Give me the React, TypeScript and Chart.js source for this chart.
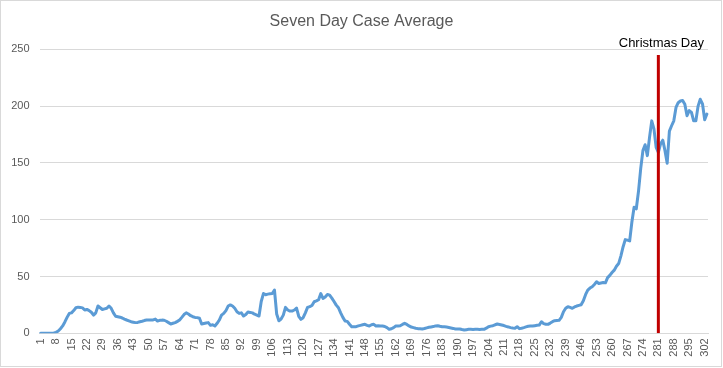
import React, { useEffect, useRef } from "react";
import { Chart, registerables } from "chart.js";

Chart.register(...registerables);

const TITLE = "Seven Day Case Average";
const MARKER_DAY = "281";
const MARKER_LABEL = "Christmas Day";
const MARKER_TOP = 245;
const Y_TICKS = [0, 50, 100, 150, 200, 250];
const LABEL_EVERY = 7;

const CASES = [
  0, 0, 0, 0, 0, 0, 0.3, 0.8, 2, 4,
  6.5, 10, 14, 17.5, 18, 20, 22.5, 23, 22.8, 22.4,
  20.5, 21, 20, 18.5, 16, 18, 24, 22.5, 21, 21.5,
  22, 24, 22, 18, 15, 14.6, 14.2, 13.5, 12.5, 11.7,
  11, 10.2, 9.8, 9.4, 9.6, 10.2, 10.6, 11.2, 11.7, 11.8,
  11.7, 11.8, 12.5, 10.8, 11.4, 11.6, 11.5, 10.6, 9.4, 8.2,
  8.8, 9.4, 10.5, 11.7, 14, 16.5, 18, 17, 15.5, 14.6,
  14, 13.8, 13.2, 8.2, 8.6, 9, 9.4, 7, 7.5, 6.4,
  8.8, 11.7, 16, 17.5, 20, 24, 25, 24, 22, 19,
  17.5, 18, 15.2, 16.5, 18.7, 18.4, 18, 16.8, 16, 15.2,
  28, 35, 34, 34.5, 34.8, 35, 38, 17, 11, 12.5,
  16, 22.8, 20.5, 19.6, 19.6, 20.5, 22.2, 15, 12.3, 13.7,
  18, 22.8, 23.5, 24.5, 27.8, 28.5, 29.5, 35, 30.7, 32,
  34.2, 33.6, 31, 28, 24.8, 22.5, 18, 14, 10.8, 10.5,
  8, 5.8, 5.8, 5.8, 6.5, 7, 7.5, 7.9, 7, 6.4,
  7.5, 7.9, 6.4, 6.6, 6.5, 6.4, 6, 5, 3.5, 4,
  5, 6.4, 6.5, 6.7, 7.8, 8.8, 7.8, 6.5, 5.5, 5,
  4.5, 4.1, 4, 3.8, 4.2, 4.8, 5.3, 5.6, 5.9, 6.5,
  6.7, 6.2, 5.8, 5.7, 5.5, 5.1, 4.7, 4.3, 3.8, 3.8,
  3.8, 3.3, 2.9, 3.2, 3.5, 3.5, 3.4, 3.5, 3.5, 3.4,
  3.5, 3.5, 4.5, 5.8, 6.3, 6.7, 7.5, 8.2, 7.8, 7.3,
  6.8, 6.1, 5.6, 5, 4.6, 4.4, 5.8, 4.1, 4.5, 5,
  5.6, 6.2, 6.4, 6.4, 6.7, 7, 7.2, 10.2, 8.5, 8,
  7.9, 9, 10.2, 11.1, 11.3, 11.4, 14, 19, 22, 23.4,
  22.8, 22, 23.2, 24, 24.6, 25.1, 28.7, 34, 38, 39.8,
  41, 43, 45.3, 43.9, 44.3, 44.7, 44.4, 49, 51, 53.5,
  55.6, 59, 61.4, 68, 76, 82.5, 82, 81.3, 98, 111,
  109.6, 125, 145, 160.8, 166, 156.4, 172.5, 187, 180, 163.7,
  159.3, 166.7, 170, 160.8, 149.7, 178, 182.7, 187, 198.8, 203,
  204.5, 205, 201.7, 191.5, 196, 194.4, 187, 187, 200, 206,
  202, 188, 193,
];

const DAYS = CASES.map((_, i) => String(i + 1));

export default function App() {
  const ref = useRef<HTMLCanvasElement | null>(null);

  useEffect(() => {
    if (!ref.current) return;
    const decor = {
      id: "decor",
      beforeDraw(chart: any) {
        const ctx = chart.ctx;
        ctx.save();
        ctx.fillStyle = "#ffffff";
        ctx.fillRect(0, 0, chart.width, chart.height);
        ctx.strokeStyle = "#d9d9d9";
        ctx.lineWidth = 1;
        ctx.strokeRect(0.5, 0.5, 721, 366);
        ctx.restore();
      },
      afterDraw(chart: any) {
        const ctx = chart.ctx;
        ctx.save();
        ctx.textAlign = "center";
        ctx.textBaseline = "middle";
        ctx.fillStyle = "#595959";
        ctx.font = "16px 'Liberation Sans'";
        ctx.fillText(TITLE, 361.5, 22);
        const x = chart.scales.x.getPixelForValue(DAYS.indexOf(MARKER_DAY));
        ctx.fillStyle = "#000000";
        ctx.font = "13px 'Liberation Sans'";
        ctx.fillText(MARKER_LABEL, x + 3, 43);
        ctx.restore();
      },
    };

    const chart = new Chart(ref.current, {
      type: "line",
      data: {
        labels: DAYS,
        datasets: [
          {
            label: MARKER_LABEL,
            data: [
              { x: MARKER_DAY, y: 0 },
              { x: MARKER_DAY, y: MARKER_TOP },
            ] as any,
            borderColor: "#c00000",
            borderWidth: 3,
            pointRadius: 0,
          },
          {
            label: TITLE,
            data: CASES,
            borderColor: "#5b9bd5",
            borderWidth: 3,
            pointRadius: 0,
            tension: 0,
            borderJoinStyle: "round",
            borderCapStyle: "round",
          },
        ],
      },
      options: {
        responsive: false,
        animation: false,
        layout: { padding: { top: 49.3, right: 15, left: 0, bottom: 0 } },
        plugins: {
          legend: { display: false },
          tooltip: { enabled: false },
          title: { display: false },
        },
        scales: {
          x: {
            type: "category",
            offset: true,
            grid: { display: false, drawTicks: false },
            border: { display: true, color: "#d9d9d9", width: 1 },
            ticks: {
              autoSkip: false,
              maxRotation: 90,
              minRotation: 90,
              padding: 5,
              color: "#595959",
              font: { family: "'Liberation Sans'", size: 11 },
              callback: (_v: any, i: number) => (i % LABEL_EVERY === 0 ? DAYS[i] : ""),
            },
            afterFit: (s: any) => {
              s.height = 34.7;
              s.paddingLeft = 0;
              s.paddingRight = 0;
            },
          },
          y: {
            min: Y_TICKS[0],
            max: Y_TICKS[Y_TICKS.length - 1],
            grid: { color: "#d9d9d9", drawTicks: false },
            border: { display: false },
            ticks: {
              stepSize: Y_TICKS[1] - Y_TICKS[0],
              padding: 10,
              color: "#595959",
              font: { family: "'Liberation Sans'", size: 11 },
            },
            afterFit: (s: any) => {
              s.width = 39.5;
            },
          },
        },
      },
      plugins: [decor],
    });
    return () => chart.destroy();
  }, []);

  return (
    <div style={{ position: "absolute", left: 0, top: 0, width: 723, height: 368 }}>
      <canvas ref={ref} width={723} height={368} style={{ width: 723, height: 368 }} />
    </div>
  );
}
